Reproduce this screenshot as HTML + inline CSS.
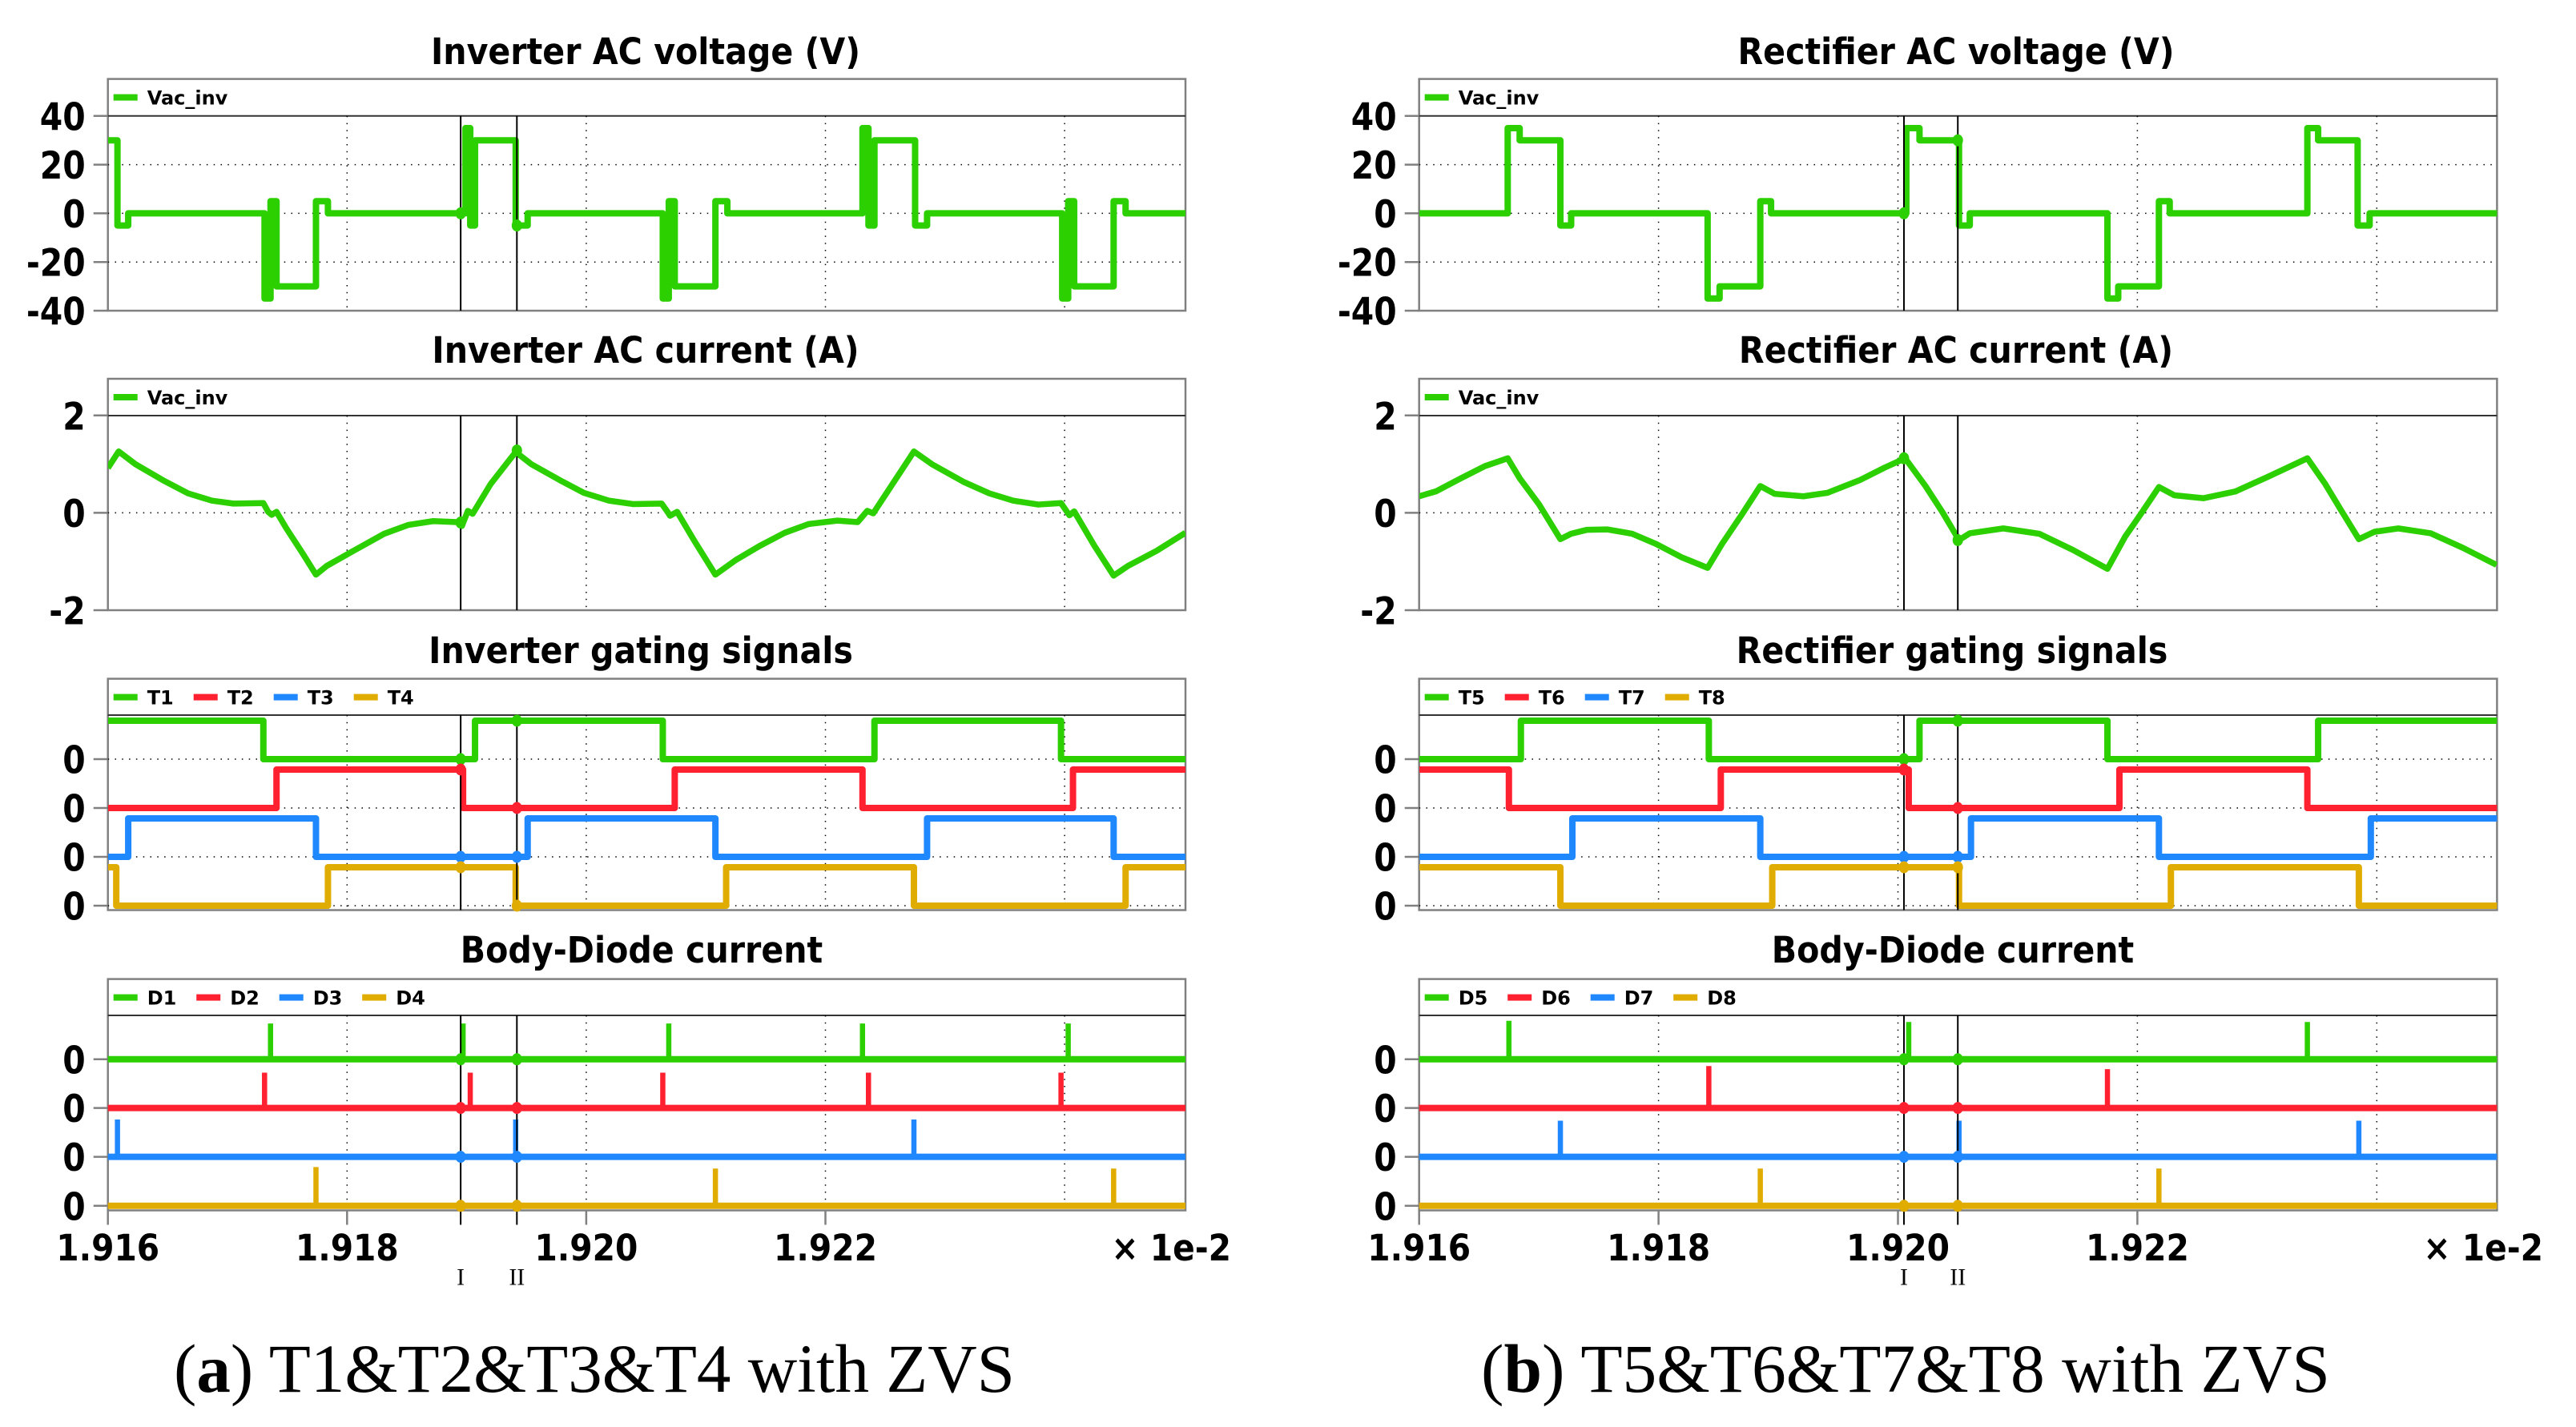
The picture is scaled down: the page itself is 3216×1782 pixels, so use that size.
<!DOCTYPE html>
<html>
<head>
<meta charset="utf-8">
<title>ZVS waveforms</title>
<style>
html,body{margin:0;padding:0;background:#fff;width:3216px;height:1782px;overflow:hidden}
svg{display:block}
.title,.tick,.legend{font-family:"DejaVu Sans","Liberation Sans",sans-serif;font-weight:bold;fill:#000}
.title{font-size:45px;text-anchor:middle}
.tick{font-size:47px}
.legend{font-size:24px}
.serif{font-family:"Liberation Serif",serif;fill:#000}
</style>
</head>
<body>
<svg id="chart" xmlns="http://www.w3.org/2000/svg" width="3216" height="1782" viewBox="0 0 3216 1782">
<rect width="3216" height="1782" fill="#fff"/>
<defs>
<clipPath id="clip-left"><rect x="135" y="0" width="1345" height="1782"/></clipPath>
<clipPath id="clip-right"><rect x="1772" y="0" width="1345.5" height="1782"/></clipPath>
</defs>
<text class="serif" x="217" y="1738" font-size="86" textLength="1050" lengthAdjust="spacingAndGlyphs">(<tspan font-weight="bold">a</tspan>) T1&amp;T2&amp;T3&amp;T4 with ZVS</text>
<text class="serif" x="1849" y="1738" font-size="86" textLength="1060" lengthAdjust="spacingAndGlyphs">(<tspan font-weight="bold">b</tspan>) T5&amp;T6&amp;T7&amp;T8 with ZVS</text>
</svg>
<script>
// ---- axis data ----
const xTickValues = [1.916, 1.918, 1.920, 1.922];
const xTickLabels = ['1.916', '1.918', '1.920', '1.922'];
const xGridValues = [1.918, 1.920, 1.922, 1.924];
const voltageTicks = [40, 20, 0, -20, -40];
const voltageGrid = [20, 0, -20];
const currentTicks = [2, 0, -2];
const currentGrid = [0];
const cursorNames = ['I', 'II'];
const colors = ['#2ccf00', '#ff2030', '#2088ff', '#e0ac00'];

// ---- left: inverter ----
const invCursors = [1.91895, 1.91942];
const invVoltTimes = [1.916,1.91608,1.91617,1.91731,1.91736,1.91741,1.91774,1.91784,1.91899,1.91903,1.91907,1.91941,1.91951,1.92064,1.92069,1.92074,1.92108,1.92118,1.92231,1.92236,1.92241,1.92275,1.92285,1.92398,1.92403,1.92408,1.92441,1.92451];
const invVoltValues = [30,-5,0,-35,5,-30,5,0,35,-5,30,-5,0,-35,5,-30,5,0,35,-5,30,-5,0,-35,5,-30,5,0];
const invVoltMarks = [0,-5];
const invCurrTimes = [1.916,1.91609,1.91623,1.91646,1.91667,1.91687,1.91705,1.9173,1.91734,1.91737,1.91741,1.91749,1.91763,1.91774,1.91783,1.91804,1.91831,1.91851,1.91872,1.91892,1.91896,1.91901,1.91905,1.9192,1.91941,1.91954,1.91978,1.91998,1.92019,1.92039,1.92063,1.92068,1.9207,1.92076,1.92091,1.92108,1.92125,1.92145,1.92166,1.92186,1.9221,1.92227,1.92235,1.9224,1.92255,1.92274,1.92289,1.92316,1.92337,1.92357,1.92378,1.92397,1.92402,1.92404,1.92408,1.92425,1.92441,1.92453,1.92477,1.92501];
const invCurrValues = [0.92,1.26,1.0,0.67,0.40,0.25,0.19,0.2,0.02,-0.04,0.02,-0.31,-0.84,-1.27,-1.09,-0.80,-0.43,-0.25,-0.17,-0.19,-0.27,0.04,-0.02,0.59,1.25,1.0,0.67,0.41,0.25,0.18,0.19,0.02,-0.06,0.02,-0.6,-1.27,-0.97,-0.68,-0.41,-0.23,-0.16,-0.19,0.04,-0.01,0.55,1.26,1.0,0.63,0.40,0.25,0.17,0.2,0.02,-0.05,0.03,-0.68,-1.29,-1.09,-0.78,-0.41];
const invCurrMarks = [-0.2,1.28];
const invGateNames = ['T1','T2','T3','T4'];
const invGateStart = [1,0,0,1];
const invGateEdges = [
  [1.91730,1.91907,1.92064,1.92241,1.92397],
  [1.91741,1.91897,1.92074,1.92231,1.92407],
  [1.91617,1.91774,1.91951,1.92108,1.92285,1.92441],
  [1.91607,1.91784,1.91941,1.92117,1.92274,1.92451]
];
const invGateMarks = [[0,1],[1,0],[0,0],[1,0]];
const invDiodeNames = ['D1','D2','D3','D4'];
const invDiodeTimes = [
  [1.91736,1.91897,1.92069,1.92231,1.92403],
  [1.91731,1.91903,1.92064,1.92236,1.92397],
  [1.91608,1.91941,1.92274],
  [1.91774,1.92108,1.92441]
];
const invDiodePeaks = [
  [0.93,0.93,0.93,0.93,0.93],
  [0.92,0.92,0.92,0.92,0.92],
  [0.97,0.97,0.97],
  [1.01,0.97,0.97]
];

// ---- right: rectifier ----
const recCursors = [1.92005, 1.92050];
const recVoltTimes = [1.916,1.91674,1.91684,1.91718,1.91727,1.91841,1.91851,1.91885,1.91894,1.92007,1.92018,1.92051,1.9206,1.92175,1.92184,1.92218,1.92227,1.92342,1.92351,1.92384,1.92394];
const recVoltValues = [0,35,30,-5,0,-35,-30,5,0,35,30,-5,0,-35,-30,5,0,35,30,-5,0];
const recVoltMarks = [0,30];
const recCurrTimes = [1.916,1.91614,1.91635,1.91655,1.91674,1.91684,1.917,1.91718,1.91727,1.9174,1.91757,1.91778,1.91798,1.91819,1.91841,1.91853,1.9187,1.91885,1.91897,1.91921,1.91941,1.91968,1.91989,1.92006,1.92023,1.92037,1.92051,1.9206,1.92088,1.92118,1.92146,1.92175,1.9219,1.92203,1.92218,1.92231,1.92255,1.92282,1.92309,1.92342,1.92357,1.9237,1.92385,1.92398,1.92418,1.92445,1.92472,1.925];
const recCurrValues = [0.34,0.44,0.71,0.96,1.12,0.71,0.18,-0.54,-0.43,-0.35,-0.34,-0.43,-0.64,-0.91,-1.13,-0.64,-0.02,0.55,0.39,0.34,0.41,0.67,0.93,1.12,0.55,0.02,-0.56,-0.42,-0.32,-0.43,-0.76,-1.15,-0.48,-0.02,0.53,0.36,0.30,0.44,0.74,1.12,0.59,0.06,-0.54,-0.39,-0.32,-0.42,-0.72,-1.07];
const recCurrMarks = [1.12,-0.56];
const recGateNames = ['T5','T6','T7','T8'];
const recGateStart = [0,1,0,1];
const recGateEdges = [
  [1.91685,1.91842,1.92018,1.92175,1.92351],
  [1.91675,1.91852,1.92009,1.92185,1.92342],
  [1.91728,1.91885,1.92061,1.92218,1.92395],
  [1.91718,1.91895,1.92051,1.92228,1.92385]
];
const recGateMarks = [[0,1],[1,0],[0,0],[1,1]];
const recDiodeNames = ['D5','D6','D7','D8'];
const recDiodeTimes = [
  [1.91675,1.92009,1.92342],
  [1.91842,1.92175],
  [1.91718,1.92051,1.92385],
  [1.91885,1.92218]
];
const recDiodePeaks = [
  [1.0,0.97,0.97],
  [1.09,1.01],
  [0.94,0.94,0.94],
  [0.97,0.97]
];

// ---- drawing ----
const NS = 'http://www.w3.org/2000/svg';
const svg = document.getElementById('chart');
function mk(tag, attrs, parent) {
  const e = document.createElementNS(NS, tag);
  for (const k in attrs) e.setAttribute(k, attrs[k]);
  (parent || svg).appendChild(e);
  return e;
}
const DASH = '1.5 7.3';
const TICK_GRAY = '#808080';

function xScale(left, perMs) {
  return t => left + (t - 1.916) / 0.001 * perMs;
}
function frame(side, p, title, titleX) {
  const t = mk('text', {class: 'title', transform: 'translate(' + titleX + ' ' + p.titleY + ') scale(0.915 1)'});
  t.textContent = title;
  
  
  const r = mk('rect', {x: side.left, y: p.top, width: side.right - side.left, height: p.bottom - p.top, fill: 'none', stroke: TICK_GRAY, 'stroke-width': 2.5});
  
  
  const l = mk('line', {x1: side.left, x2: side.right, y1: p.axisTop, y2: p.axisTop, stroke: '#333', 'stroke-width': 2});
  
  
  xGridValues.forEach(v => {
    const g = mk('line', {x1: side.x(v), x2: side.x(v), y1: p.axisTop, y2: p.bottom, stroke: '#000', 'stroke-width': 1.5, 'stroke-dasharray': DASH});
    
    
  });
}
function yGrid(side, y) {
  const g = mk('line', {x1: side.left, x2: side.right, y1: y, y2: y, stroke: '#000', 'stroke-width': 1.5, 'stroke-dasharray': DASH});
  
  
}
function yTick(side, y, label) {
  const m = mk('line', {x1: side.left - 18, x2: side.left, y1: y, y2: y, stroke: TICK_GRAY, 'stroke-width': 2.5});
  
  
  const t = mk('text', {class: 'tick', 'text-anchor': 'end', transform: 'translate(' + (side.left - 28) + ' ' + (y + 17.5) + ') scale(0.87 1)'});
  t.textContent = label;
  
  
}
function legend(side, top, names, step) {
  names.forEach((n, i) => {
    const x0 = side.left + 7 + i * step;
    const s = mk('rect', {x: x0, y: top + 19, width: 30, height: 8, fill: colors[i]});
    
    
    const t = mk('text', {class: 'legend', x: x0 + 42, y: top + 32});
    t.textContent = n;
    
    
  });
}
function seriesPath(side, d, color, width, name) {
  const e = mk('path', {d: d, fill: 'none', stroke: color, 'stroke-width': width, 'stroke-linejoin': 'round', 'stroke-linecap': 'butt', 'clip-path': 'url(#' + side.clip + ')'});
  
  
}
function stepPath(side, times, values, y) {
  let d = 'M' + side.left + ' ' + y(values[0]);
  for (let i = 1; i < times.length; i++) {
    d += ' L' + side.x(times[i]) + ' ' + y(values[i - 1]) + ' L' + side.x(times[i]) + ' ' + y(values[i]);
  }
  return d + ' L' + side.right + ' ' + y(values[values.length - 1]);
}
function cursors(side, p, cur) {
  cur.forEach(c => {
    const l = mk('line', {x1: side.x(c), x2: side.x(c), y1: p.axisTop, y2: p.cursorEnd || p.bottom, stroke: '#000', 'stroke-width': 2});
    
    
  });
}
function marker(side, t, y, color) {
  const c = mk('ellipse', {cx: side.x(t), cy: y, rx: 6.5, ry: 7.5, fill: color});
  
  
}

const panelV = {titleY: 80, top: 98.6, axisTop: 144.8, bottom: 388};
const panelI = {titleY: 453, top: 473, axisTop: 519, bottom: 762};
const panelG = {titleY: 828, top: 847.6, axisTop: 893, bottom: 1136.5};
const panelD = {titleY: 1202, top: 1222.6, axisTop: 1268, bottom: 1511.5, cursorEnd: 1529.5};
const gateZeros = [948, 1009, 1070, 1131];
const diodeZeros = [1322.8, 1383.6, 1444.6, 1505.8];
const unitPx = 48;

function drawSide(side, cfg) {
  const yV = v => 266.4 - v * 3.04;
  const yI = v => 640.4 - v * 60.8;

  // voltage
  frame(side, panelV, cfg.titles[0], cfg.titleX[0]);
  voltageGrid.forEach(v => yGrid(side, yV(v)));
  voltageTicks.forEach(v => yTick(side, yV(v), String(v)));
  legend(side, panelV.top, ['Vac_inv'], 0);
  seriesPath(side, stepPath(side, cfg.voltT, cfg.voltV, yV), colors[0], 8, 'voltage-trace');
  cursors(side, panelV, cfg.cur);
  cfg.cur.forEach((c, i) => marker(side, c, yV(cfg.voltM[i]), colors[0]));

  // current
  frame(side, panelI, cfg.titles[1], cfg.titleX[1]);
  currentGrid.forEach(v => yGrid(side, yI(v)));
  currentTicks.forEach(v => yTick(side, yI(v), String(v)));
  legend(side, panelI.top, ['Vac_inv'], 0);
  const cd = cfg.currT.map((t, i) => (i ? 'L' : 'M') + side.x(t) + ' ' + yI(cfg.currV[i])).join(' ');
  seriesPath(side, cd, colors[0], 7.5, 'current-trace');
  cursors(side, panelI, cfg.cur);
  cfg.cur.forEach((c, i) => marker(side, c, yI(cfg.currM[i]), colors[0]));

  // gating
  frame(side, panelG, cfg.titles[2], cfg.titleX[2]);
  gateZeros.forEach(z => { yGrid(side, z); yTick(side, z, '0'); });
  legend(side, panelG.top, cfg.gateN, 100);
  gateZeros.forEach((z, k) => {
    const y = v => z - v * unitPx;
    const times = [1.916].concat(cfg.gateE[k]);
    const values = times.map((_, i) => (cfg.gateS[k] + i) % 2);
    seriesPath(side, stepPath(side, times, values, y), colors[k], 8, 'gate-trace-' + cfg.gateN[k].toLowerCase());
  });
  cursors(side, panelG, cfg.cur);
  gateZeros.forEach((z, k) => cfg.cur.forEach((c, i) => marker(side, c, z - cfg.gateM[k][i] * unitPx, colors[k])));

  // diode
  frame(side, panelD, cfg.titles[3], cfg.titleX[3]);
  diodeZeros.forEach(z => { yGrid(side, z); yTick(side, z, '0'); });
  legend(side, panelD.top, cfg.diodeN, 103.5);
  diodeZeros.forEach((z, k) => {
    const base = mk('line', {x1: side.left, x2: side.right, y1: z, y2: z, stroke: colors[k], 'stroke-width': 8});
    
    
    cfg.diodeT[k].forEach((t, i) => {
      const s = mk('line', {x1: side.x(t), x2: side.x(t), y1: z, y2: z - cfg.diodeP[k][i] * unitPx, stroke: colors[k], 'stroke-width': 6.5});
      
      
    });
  });
  cursors(side, panelD, cfg.cur);
  diodeZeros.forEach((z, k) => cfg.cur.forEach(c => marker(side, c, z, colors[k])));

  // x axis
  xTickValues.forEach((v, i) => {
    const m = mk('line', {x1: side.x(v), x2: side.x(v), y1: panelD.bottom, y2: 1529.5, stroke: TICK_GRAY, 'stroke-width': 2.5});
    
    
    const t = mk('text', {class: 'tick', 'font-size': 45, style: 'font-size:45px', 'text-anchor': 'middle', transform: 'translate(' + side.x(v) + ' 1574) scale(0.906 1)'});
    t.textContent = xTickLabels[i];
    
    
  });
  const mult = mk('text', {class: 'tick', style: 'font-size:45px', 'text-anchor': 'end', transform: 'translate(' + cfg.multX + ' 1574) scale(0.906 1)'});
  mult.textContent = '× 1e-2';
  
  
  cfg.cur.forEach((c, i) => {
    const t = mk('text', {class: 'serif', x: side.x(c), y: 1604.5, 'font-size': 30, 'text-anchor': 'middle'});
    t.textContent = cursorNames[i];
    
    
  });
}

drawSide({left: 134.7, right: 1480, x: xScale(134.7, 149.3), clip: 'clip-left'}, {
  titles: ['Inverter AC voltage (V)', 'Inverter AC current (A)', 'Inverter gating signals', 'Body-Diode current'],
  titleX: [806, 806, 800, 801], multX: 1537,
  cur: invCursors,
  voltT: invVoltTimes, voltV: invVoltValues, voltM: invVoltMarks,
  currT: invCurrTimes, currV: invCurrValues, currM: invCurrMarks,
  gateN: invGateNames, gateS: invGateStart, gateE: invGateEdges, gateM: invGateMarks,
  diodeN: invDiodeNames, diodeT: invDiodeTimes, diodeP: invDiodePeaks
});
drawSide({left: 1771.7, right: 3117.4, x: xScale(1771.7, 149.45), clip: 'clip-right'}, {
  titles: ['Rectifier AC voltage (V)', 'Rectifier AC current (A)', 'Rectifier gating signals', 'Body-Diode current'],
  titleX: [2442, 2442, 2437, 2438], multX: 3175,
  cur: recCursors,
  voltT: recVoltTimes, voltV: recVoltValues, voltM: recVoltMarks,
  currT: recCurrTimes, currV: recCurrValues, currM: recCurrMarks,
  gateN: recGateNames, gateS: recGateStart, gateE: recGateEdges, gateM: recGateMarks,
  diodeN: recDiodeNames, diodeT: recDiodeTimes, diodeP: recDiodePeaks
});
</script>
</body>
</html>
